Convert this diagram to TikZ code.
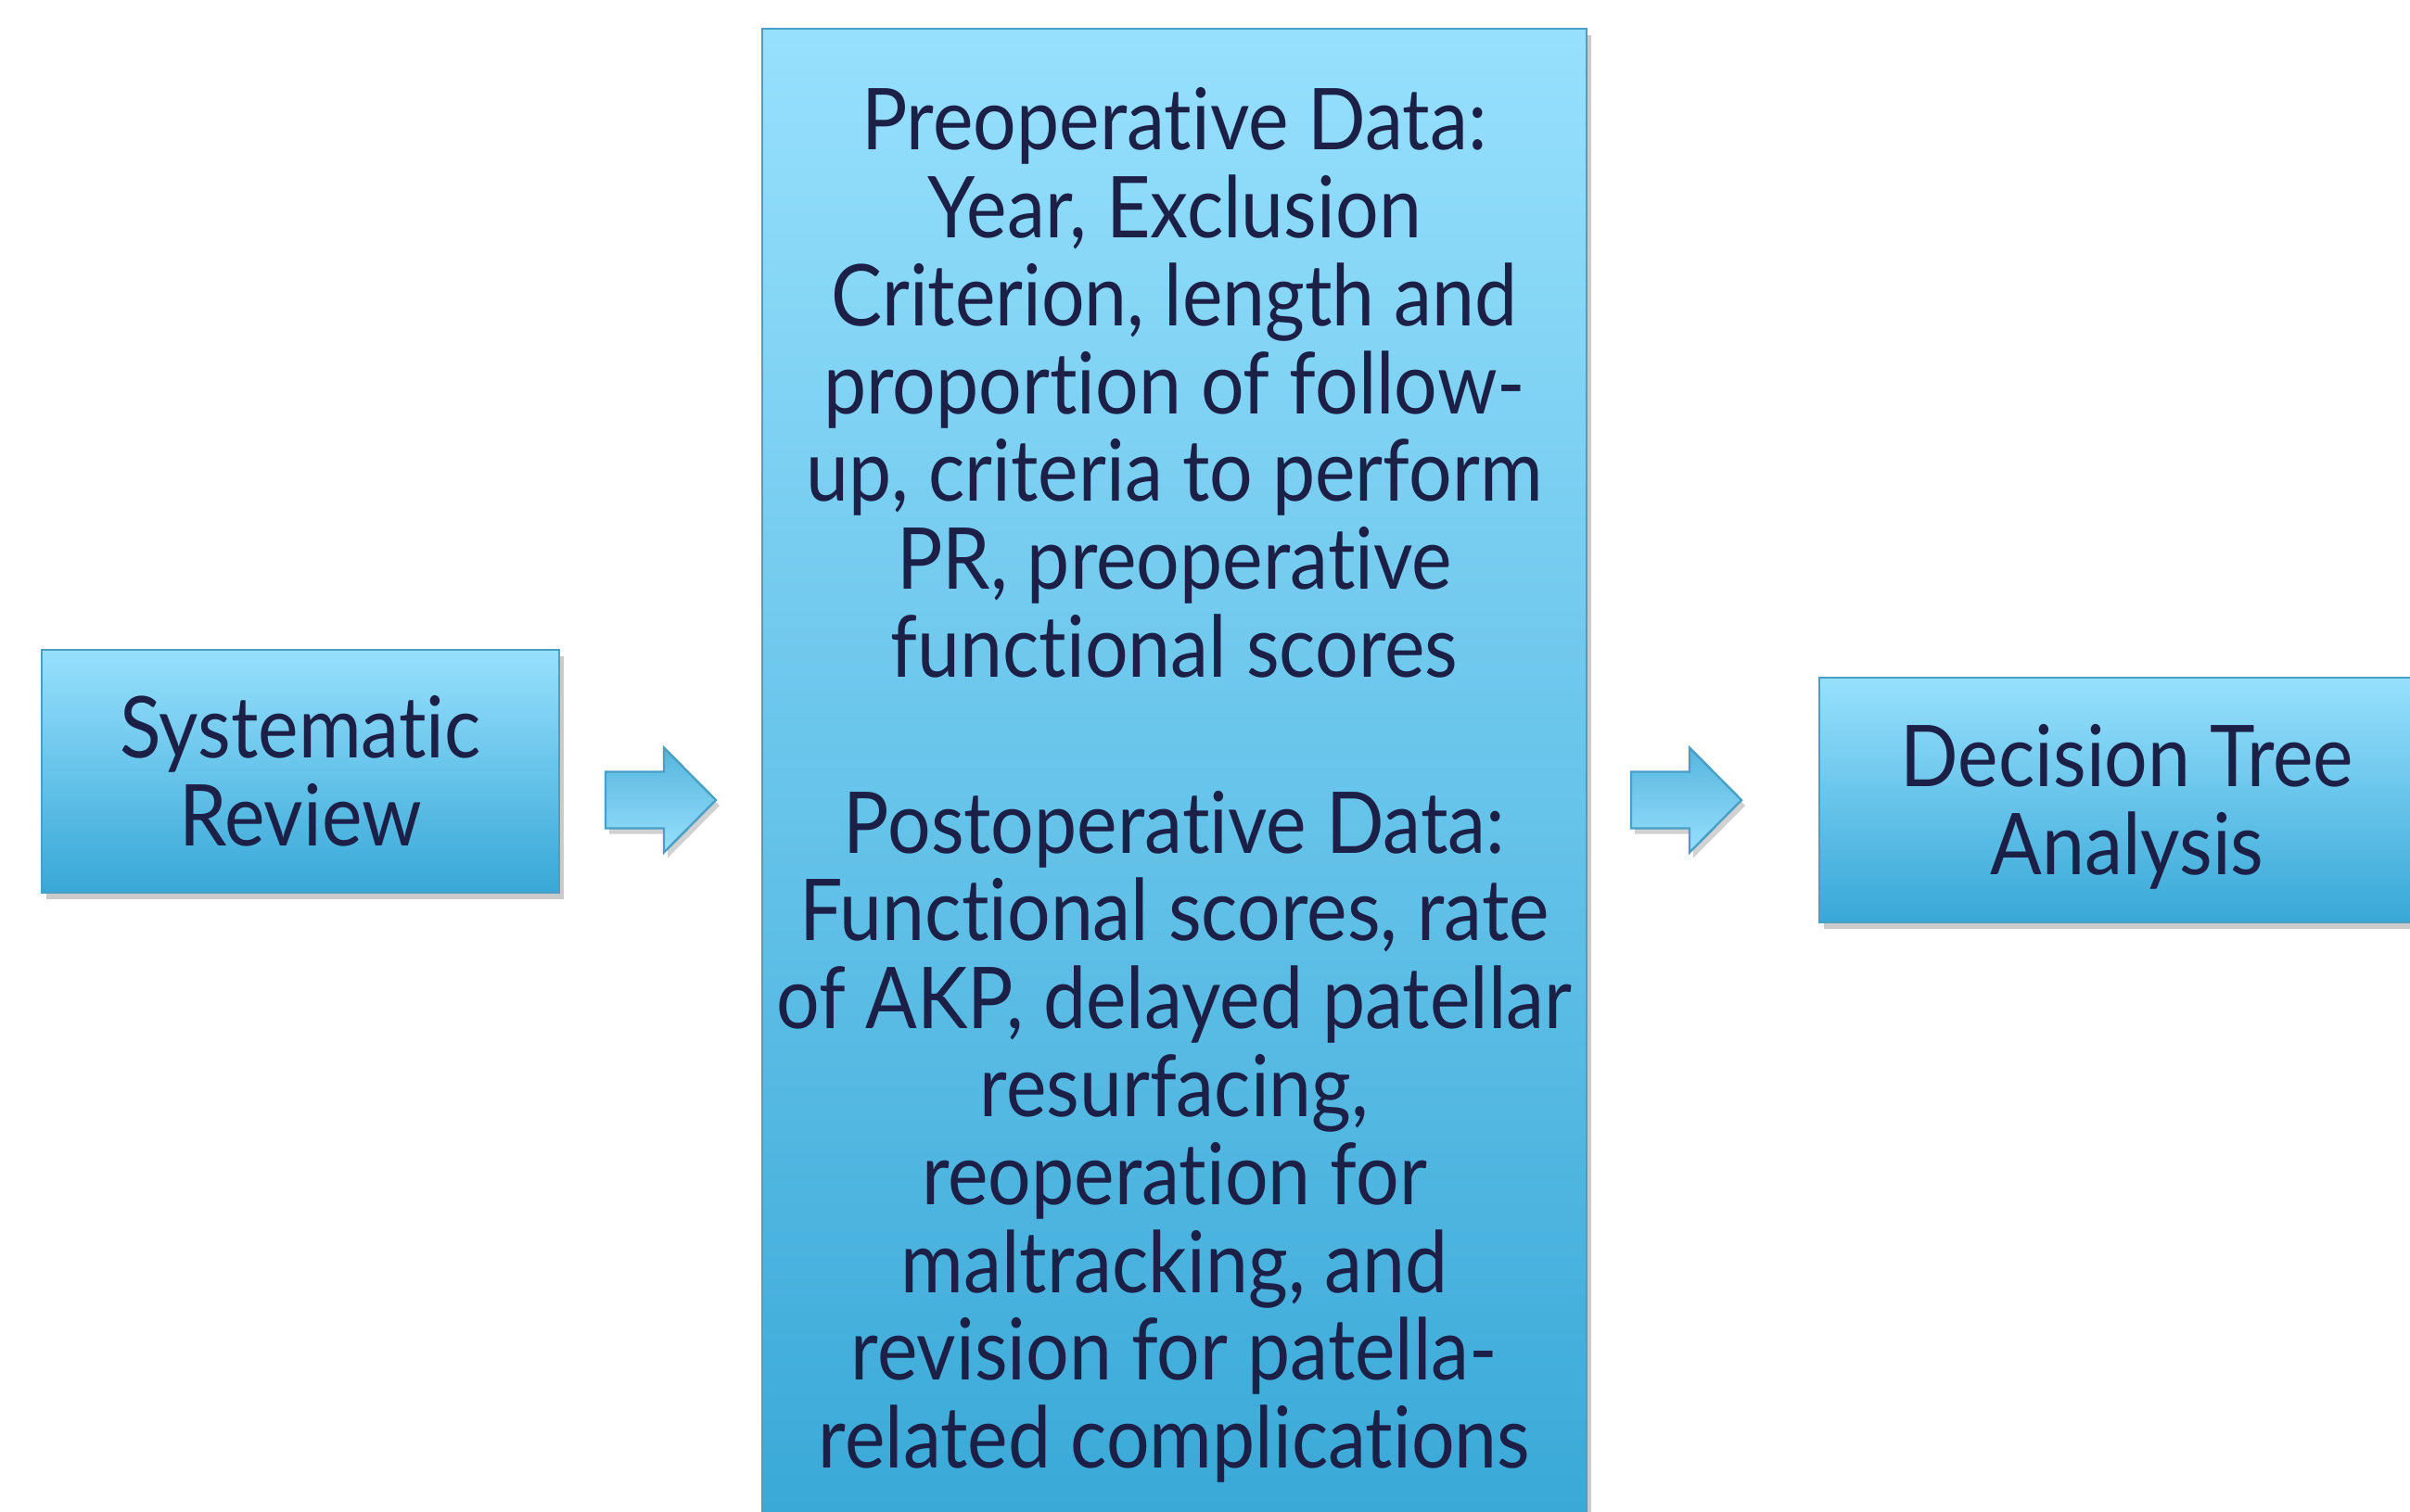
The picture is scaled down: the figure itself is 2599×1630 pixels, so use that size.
\documentclass[tikz,border=0pt]{standalone}
\usepackage{fontspec}
\setmainfont{Lato}[FakeStretch=0.895, Ligatures=NoCommon]
\usetikzlibrary{shadows}
\definecolor{boxtop}{HTML}{97E0FD}
\definecolor{boxbot}{HTML}{38A8D7}
\definecolor{boxedge}{HTML}{4A9FC6}
\definecolor{ink}{HTML}{1C1F46}
\tikzset{
  px/.style={x=0.25pt,y=-0.25pt},
  boxtext/.style={text=ink, align=center, inner sep=0pt, font=\fontsize{23}{23.7}\selectfont},
  flowbox/.style={boxtext, draw=boxedge, line width=0.6pt, top color=boxtop, bottom color=boxbot,
     drop shadow={shadow xshift=1.2pt, shadow yshift=-1.8pt, opacity=0.35, fill=black!60}},
  blockarrow/.style={draw=boxedge, line width=0.6pt, top color=boxbot!85, bottom color=boxtop,
     drop shadow={shadow xshift=1pt, shadow yshift=-1.5pt, opacity=0.3, fill=black!60}},
}
\begin{document}
\begin{tikzpicture}[px]
\useasboundingbox (0,0) rectangle (2599,1630);
\node[flowbox, minimum width=139.5pt, minimum height=65.5pt] (sr) at (324,832)
  {Systematic\\Review};
\node[flowbox, minimum width=222.25pt, minimum height=408pt] (data) at (1266.5,847)
  {Preoperative Data:\\Year, Exclusion\\Criterion, length and\\proportion of follow-\\up, criteria to perform\\PR, preoperative\\functional scores\\[23.7pt]Postoperative Data:\\Functional scores, rate\\of AKP, delayed patellar\\resurfacing,\\reoperation for\\maltracking, and\\revision for patella-\\related complications};
\node[flowbox, minimum width=166pt, minimum height=66pt] (dt) at (2294,863) {};
\node[boxtext] (dtt) at (2294,870) {Decision Tree\\Analysis};
\coordinate (a1) at (653,863);
\coordinate (a2) at (1759,863);
\path[blockarrow] (a1) ++(0,-30.5) -- ++(63,0) -- ++(0,-26) -- ++(56,56.5) -- ++(-56,56.5) -- ++(0,-26) -- ++(-63,0) -- cycle;
\path[blockarrow] (a2) ++(0,-30.5) -- ++(63,0) -- ++(0,-26) -- ++(56,56.5) -- ++(-56,56.5) -- ++(0,-26) -- ++(-63,0) -- cycle;
\end{tikzpicture}
\end{document}
